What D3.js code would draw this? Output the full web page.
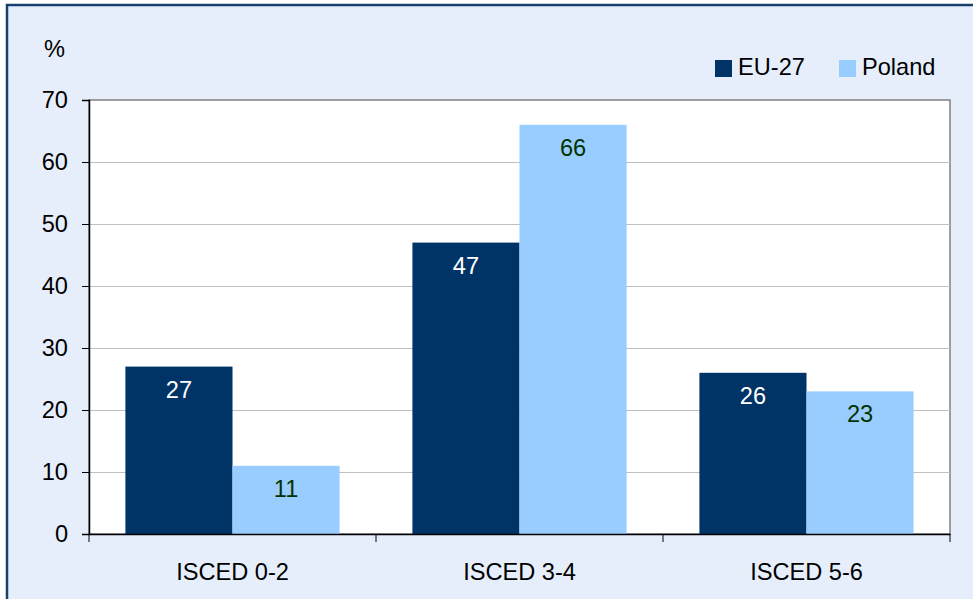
<!DOCTYPE html>
<html>
<head>
<meta charset="utf-8">
<script src="https://cdn.jsdelivr.net/npm/d3@7"></script>
<style>
	body { margin: 0; background: #fff; }
	text { font-family: "Liberation Sans", Arial, sans-serif; }
</style>
</head>
<body>
<div id="chart"></div>
<script>

var categories = ['ISCED 0-2', 'ISCED 3-4', 'ISCED 5-6'];
var series = ['EU-27', 'Poland'];
var eu27 = [27, 47, 26];
var poland = [11, 66, 23];
var yTicks = [0, 10, 20, 30, 40, 50, 60, 70];

var colors = {'EU-27': '#003366', 'Poland': '#99CCFF'};
var labelColors = {'EU-27': '#ffffff', 'Poland': '#003300'};

var W = 973, H = 599;
var m = {left: 89, top: 100, right: 23, bottom: 65};
var fs = 23.6;

var svg = d3.select('#chart').append('svg')
	.attr('width', W)
	.attr('height', H);

// chart background + frame
svg.append('rect')
	.attr('x', 7).attr('y', 5)
	.attr('width', W + 10).attr('height', H + 10)
	.attr('fill', '#E6EEFC')
	.attr('stroke', '#17406D')
	.attr('stroke-width', 2.5);

var x = d3.scaleBand()
	.domain(categories)
	.range([m.left, W - m.right])
	.paddingInner(0).paddingOuter(0);

var x1 = d3.scaleBand()
	.domain(series)
	.range([0, x.bandwidth()])
	.paddingOuter(0.34).paddingInner(0);

var y = d3.scaleLinear()
	.domain([0, 70])
	.range([H - m.bottom, m.top]);

// plot area
svg.append('rect')
	.attr('x', m.left).attr('y', m.top)
	.attr('width', W - m.right - m.left)
	.attr('height', y(0) - m.top)
	.attr('fill', '#fff')
	.attr('stroke', '#808080')
	.attr('stroke-width', 1.5);

// gridlines
svg.selectAll('.grid').data(yTicks.filter(function(d){ return d > 0 && d < 70; }))
	.enter().append('line')
	.attr('x1', m.left).attr('x2', W - m.right)
	.attr('y1', function(d){ return Math.round(y(d)) + 0.5; })
	.attr('y2', function(d){ return Math.round(y(d)) + 0.5; })
	.attr('stroke', '#C0C0C0')
	.attr('stroke-width', 1);

var data = [];
categories.forEach(function(c, i){
	data.push({cat: c, s: 'EU-27', v: eu27[i]});
	data.push({cat: c, s: 'Poland', v: poland[i]});
});

svg.selectAll('.bar').data(data)
	.enter().append('rect')
	.attr('x', function(d){ return x(d.cat) + x1(d.s); })
	.attr('y', function(d){ return y(d.v); })
	.attr('width', x1.bandwidth())
	.attr('height', function(d){ return y(0) - y(d.v); })
	.attr('fill', function(d){ return colors[d.s]; });

svg.selectAll('.lbl').data(data)
	.enter().append('text')
	.attr('x', function(d){ return x(d.cat) + x1(d.s) + x1.bandwidth() / 2; })
	.attr('y', function(d){ return y(d.v) + 31; })
	.attr('text-anchor', 'middle')
	.attr('font-size', fs)
	.attr('fill', function(d){ return labelColors[d.s]; })
	.text(function(d){ return d.v; });

// y axis
var yAxis = svg.append('g')
	.attr('transform', 'translate(' + m.left + ',0)')
	.call(d3.axisLeft(y).tickValues(yTicks).tickSize(7).tickPadding(14));
yAxis.select('.domain').attr('stroke', '#000').attr('stroke-width', 1.5);
yAxis.selectAll('.tick line').attr('stroke', '#000');
yAxis.selectAll('text').attr('font-size', fs).attr('fill', '#000')
	.style('font-family', '"Liberation Sans", Arial, sans-serif');

// x axis
var xAxis = svg.append('g')
	.attr('transform', 'translate(0,' + y(0) + ')')
	.call(d3.axisBottom(x).tickSize(0).tickPadding(29));
xAxis.select('.domain').attr('stroke', '#000').attr('stroke-width', 1.5);
xAxis.selectAll('text').attr('font-size', fs).attr('fill', '#000')
	.style('font-family', '"Liberation Sans", Arial, sans-serif');

// category separator ticks
var bounds = categories.map(function(c){ return x(c); }).concat([W - m.right]);
svg.selectAll('.xt').data(bounds)
	.enter().append('line')
	.attr('x1', function(d){ return d; }).attr('x2', function(d){ return d; })
	.attr('y1', y(0)).attr('y2', y(0) + 8)
	.attr('stroke', '#000');

svg.append('text')
	.attr('x', 44).attr('y', 57)
	.attr('font-size', fs)
	.text('%');

// legend
var leg = svg.selectAll('.leg').data(series)
	.enter().append('g')
	.attr('transform', function(d, i){ return 'translate(' + (715 + i * 124) + ',60)'; });
leg.append('rect')
	.attr('width', 17).attr('height', 17)
	.attr('fill', function(d){ return colors[d]; });
leg.append('text')
	.attr('x', 23).attr('y', 15)
	.attr('font-size', fs)
	.text(function(d){ return d; });

</script>
</body>
</html>
